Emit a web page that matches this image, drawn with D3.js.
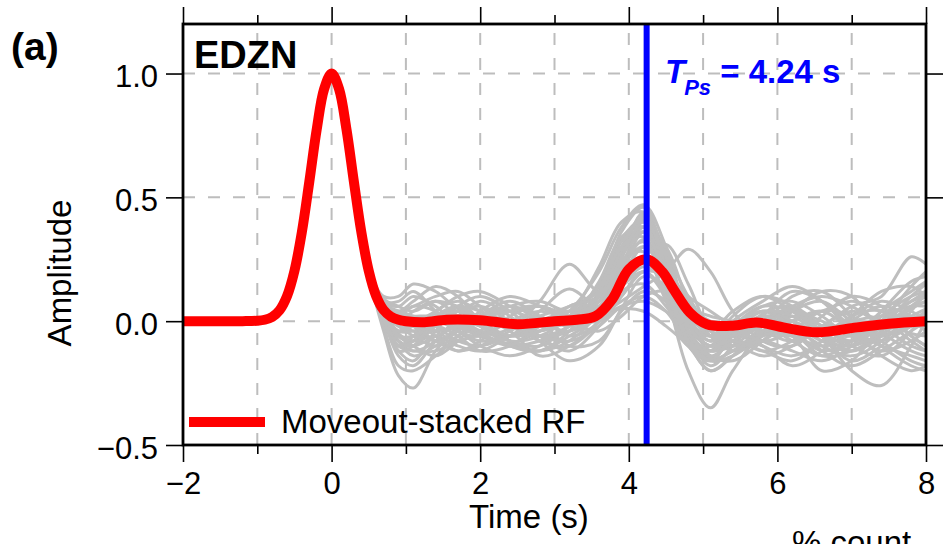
<!DOCTYPE html>
<html>
<head>
<meta charset="utf-8">
<script src="https://cdn.jsdelivr.net/npm/d3@7"></script>
<style>
  html, body { margin: 0; padding: 0; background: #fff; }
  svg { display: block; font-family: "Liberation Sans", Arial, Helvetica, sans-serif; }
</style>
</head>
<body>
<svg id="chart" width="948" height="544"></svg>
<script>
// Moveout-stacked receiver function (time in s, normalised amplitude)
const stackTime = [-2, -1.2, -1.0, -0.9, -0.8, -0.7, -0.6, -0.5, -0.4, -0.3, -0.2, -0.1, 0, 0.1, 0.2, 0.3, 0.4, 0.5,
  0.6, 0.7, 0.8, 0.9, 1.0, 1.25, 1.55, 2.0, 2.5, 3.0, 3.3, 3.55, 3.78, 4.0, 4.24, 4.45, 4.6, 4.82, 5.05, 5.4, 5.72,
  6.08, 6.53, 7.07, 7.5, 8.0];
const stackAmp = [0, 0.0001, 0.0017, 0.0057, 0.017, 0.044, 0.101, 0.203, 0.36, 0.563, 0.775, 0.938, 1.0, 0.938, 0.775, 0.563, 0.36, 0.203,
  0.101, 0.045, 0.018, 0.006, 0.0, -0.004, 0.006, 0.004, -0.012, 0.0, 0.006, 0.02, 0.09, 0.21, 0.25, 0.2, 0.13, 0.035, -0.012, -0.018, -0.005,
  -0.025, -0.045, -0.025, -0.01, 0.0];

// Individual receiver functions after the direct P pulse (they share the pulse before 0.5 s)
const traceTime = [0.5, 0.7, 0.9, 1.1, 1.4, 1.7, 2.0, 2.4, 2.8, 3.2, 3.6, 3.9, 4.2, 4.5, 4.8, 5.1, 5.4, 5.8, 6.2, 6.6, 7.0, 7.4, 7.8, 8.0];
const traces = [
  [0.19,-0.04,-0.22,-0.27,-0.12,-0.03,-0.05,-0.09,-0.04,0.04,0.2,0.38,0.47,0.3,0.02,-0.12,-0.08,0.0,0.05,-0.04,-0.1,0.0,0.14,0.2],
  [0.2,0.06,-0.05,-0.08,-0.06,-0.1,-0.12,-0.06,0.0,0.02,0.15,0.32,0.4,0.12,-0.2,-0.35,-0.2,-0.05,-0.02,-0.08,-0.1,-0.05,0.02,0.05],
  [0.2,0.04,-0.04,-0.02,0.03,0.0,-0.05,-0.03,0.08,0.23,0.12,0.18,0.3,0.2,0.0,-0.1,-0.05,0.02,0.0,-0.08,-0.12,-0.04,0.05,0.08],
  [0.19,0.05,0.0,0.04,0.08,0.02,-0.04,-0.06,-0.02,0.02,0.08,0.18,0.26,0.31,0.15,-0.04,-0.1,-0.05,0.04,0.08,0.0,-0.06,0.0,0.04],
  [0.2,0.08,0.06,0.1,0.06,-0.02,-0.06,-0.1,-0.08,-0.04,0.02,0.08,0.14,0.2,0.29,0.2,0.04,-0.08,-0.1,-0.02,0.04,0.0,-0.05,-0.06],
  [0.21,0.1,0.1,0.15,0.12,0.05,0.02,0.06,0.02,-0.02,0.05,0.2,0.36,0.2,-0.05,-0.15,-0.12,-0.02,0.1,0.12,0.02,-0.1,-0.18,-0.2],
  [0.18,-0.02,-0.18,-0.2,-0.14,-0.06,0.02,0.08,0.02,-0.06,0.0,0.25,0.44,0.25,-0.05,-0.18,-0.1,0.03,0.06,-0.02,-0.08,-0.02,0.1,0.15],
  [0.2,0.02,-0.12,-0.16,-0.04,0.06,0.1,0.04,-0.06,-0.12,-0.02,0.1,0.2,0.1,-0.02,-0.08,-0.05,-0.1,-0.18,-0.12,0.0,0.06,0.02,-0.02],
  [0.2,0.06,0.02,0.0,-0.06,-0.12,-0.08,0.02,0.06,0.02,0.06,0.28,0.43,0.28,0.02,-0.08,0.02,0.1,0.06,-0.06,-0.16,-0.1,0.0,0.02],
  [0.19,0.03,-0.06,-0.1,-0.14,-0.08,0.0,-0.04,-0.14,-0.1,0.0,0.12,0.15,0.06,-0.06,-0.12,-0.1,-0.02,-0.06,-0.2,-0.16,-0.02,0.08,0.1],
  [0.2,0.07,0.04,0.06,0.1,0.12,0.06,-0.02,-0.04,0.02,0.14,0.3,0.34,0.16,-0.02,-0.06,0.0,-0.04,-0.08,-0.02,0.06,0.1,0.26,0.23],
  [0.2,0.04,-0.02,-0.06,-0.1,-0.06,0.02,0.06,0.0,-0.1,-0.08,0.04,0.12,0.08,-0.04,-0.14,-0.16,-0.08,0.04,0.12,0.1,-0.04,-0.12,-0.14],
  [0.19,0.0,-0.1,-0.06,0.04,0.08,0.04,-0.02,-0.06,-0.02,0.1,0.33,0.41,0.2,-0.06,-0.16,-0.14,-0.06,0.0,0.04,-0.04,-0.14,-0.2,-0.18],
  [0.2,0.05,0.0,0.02,-0.02,-0.08,-0.1,-0.06,-0.02,0.0,0.08,0.22,0.3,0.18,0.02,-0.04,0.04,0.1,0.04,-0.06,-0.2,-0.26,-0.1,0.0],
  [0.2,0.03,-0.08,-0.12,-0.08,0.02,0.08,0.02,-0.08,-0.16,-0.1,0.05,0.18,0.14,0.0,-0.06,-0.02,0.04,-0.02,-0.1,-0.14,-0.08,0.04,0.12],
  [0.2,0.06,0.04,0.08,0.14,0.1,0.0,-0.08,-0.12,-0.06,0.02,0.14,0.22,0.16,0.04,-0.02,-0.06,-0.12,-0.08,0.02,0.1,0.06,-0.06,-0.1],
  [0.19,0.02,-0.08,-0.1,-0.02,0.02,-0.02,-0.1,-0.12,-0.04,0.12,0.36,0.46,0.24,-0.04,-0.12,-0.06,0.0,-0.04,-0.12,-0.08,0.04,0.16,0.18],
  [0.2,0.05,-0.02,-0.04,-0.08,-0.04,0.04,0.1,0.06,0.0,0.02,0.06,0.08,0.04,-0.04,-0.1,-0.08,0.02,0.12,0.08,-0.02,-0.06,-0.02,0.02],
  [0.2,0.04,-0.04,-0.04,0.0,-0.04,-0.1,-0.14,-0.1,-0.02,0.02,0.05,0.04,-0.02,-0.1,-0.2,-0.14,-0.04,-0.06,-0.1,-0.04,0.02,0.06,0.06],
  [0.2,0.07,0.03,0.0,0.04,0.1,0.12,0.06,-0.02,0.0,0.16,0.34,0.38,0.22,0.06,0.0,-0.04,-0.1,-0.14,-0.08,0.02,0.12,0.14,0.1],
  [0.19,0.01,-0.14,-0.18,-0.08,0.0,-0.02,-0.06,-0.02,0.06,0.1,0.2,0.26,0.1,-0.1,-0.12,-0.02,0.06,0.04,-0.04,-0.06,0.0,-0.08,-0.12],
  [0.2,0.05,0.0,-0.02,-0.04,-0.02,0.0,-0.02,-0.04,0.0,0.06,0.16,0.24,0.18,0.06,0.02,0.0,-0.04,-0.06,-0.04,0.0,0.02,0.02,0.0],
  [0.2,0.06,0.02,0.02,0.02,0.0,-0.04,-0.06,0.0,0.04,0.04,0.2,0.33,0.14,-0.1,-0.16,-0.06,0.02,-0.04,-0.14,-0.12,-0.06,-0.02,0.0],
  [0.2,0.04,-0.06,-0.08,0.02,0.06,0.0,-0.08,-0.1,-0.02,0.08,0.24,0.28,0.08,-0.1,-0.1,0.0,0.08,0.14,0.08,-0.04,-0.12,-0.08,-0.04],
  [0.2,0.03,-0.04,0.0,0.02,-0.04,-0.08,-0.06,0.04,0.13,0.06,0.14,0.2,0.12,0.02,-0.06,-0.12,-0.08,0.0,0.04,0.08,0.04,0.0,-0.04],
  [0.19,0.02,-0.1,-0.08,0.02,0.04,-0.02,-0.08,-0.06,0.02,0.22,0.4,0.44,0.2,-0.08,-0.2,-0.14,-0.04,0.02,-0.02,-0.1,-0.14,-0.04,0.04],
  [0.2,0.06,0.04,0.02,-0.04,-0.08,-0.04,0.04,0.06,0.0,-0.04,0.02,0.1,0.12,0.06,-0.02,-0.08,-0.14,-0.1,-0.02,-0.04,-0.1,-0.14,-0.16],
  [0.2,0.08,0.08,0.12,0.04,-0.04,-0.06,0.0,0.04,0.02,0.1,0.26,0.36,0.24,0.06,-0.04,-0.06,-0.02,0.0,-0.06,-0.08,0.0,0.08,0.12],
  [0.2,0.03,-0.08,-0.1,-0.06,-0.02,0.02,0.0,-0.06,-0.08,-0.02,0.06,0.1,0.04,-0.08,-0.12,-0.04,0.04,0.0,-0.12,-0.18,-0.12,-0.04,0.0],
  [0.2,0.05,-0.02,-0.02,0.02,0.06,0.04,-0.02,-0.06,-0.04,0.04,0.18,0.3,0.26,0.1,-0.02,-0.02,0.06,0.08,0.02,-0.06,-0.02,0.06,0.08],
  [0.2,0.04,-0.08,-0.14,-0.1,-0.04,0.02,0.04,0.0,-0.04,0.04,0.22,0.38,0.3,0.08,-0.06,-0.1,-0.06,-0.02,-0.06,-0.12,-0.06,0.06,0.1],
  [0.2,0.06,0.02,-0.02,-0.08,-0.12,-0.1,-0.04,0.02,0.06,0.12,0.3,0.42,0.22,-0.04,-0.14,-0.08,0.0,0.04,0.0,-0.06,-0.08,-0.02,0.02],
  [0.21,0.09,0.06,0.04,0.08,0.06,0.02,0.04,0.06,0.02,0.0,0.1,0.2,0.18,0.08,-0.02,-0.06,-0.02,0.06,0.1,0.06,-0.02,-0.1,-0.12],
  [0.19,0.02,-0.1,-0.12,-0.12,-0.08,-0.06,-0.1,-0.12,-0.08,0.04,0.24,0.32,0.14,-0.08,-0.16,-0.12,-0.08,-0.12,-0.16,-0.1,0.02,0.1,0.12],
  [0.2,0.05,0.02,0.06,0.04,-0.02,0.0,0.06,0.08,0.04,0.1,0.28,0.38,0.2,0.0,-0.08,-0.04,0.04,0.02,-0.04,0.02,0.08,0.04,0.0],
  [0.2,0.03,-0.06,-0.06,-0.02,-0.06,-0.12,-0.1,-0.02,0.04,0.14,0.3,0.36,0.18,-0.02,-0.1,-0.08,-0.12,-0.16,-0.08,0.02,0.04,-0.06,-0.1],
  [0.2,0.07,0.04,0.0,0.0,0.04,0.06,0.0,-0.08,-0.1,0.0,0.16,0.26,0.2,0.1,0.04,-0.02,-0.08,-0.04,0.04,0.02,-0.08,-0.16,-0.18],
  [0.19,0.01,-0.12,-0.1,0.0,0.04,0.0,-0.06,-0.04,0.02,0.08,0.26,0.4,0.26,0.04,-0.06,-0.06,-0.02,-0.08,-0.14,-0.08,0.04,0.12,0.16]
];

// Axis ticks and annotations
const xMajorTicks = [-2, 0, 2, 4, 6, 8];
const xMinorTicks = [-1, 1, 3, 5, 7];
const xGrid = [-1, 0, 1, 2, 3, 4, 5, 6, 7];
const yTicks = [-0.5, 0.0, 0.5, 1.0];
const yGrid = [0.0, 0.5, 1.0];
const psTime = 4.24;
const stationName = "EDZN";
const legendLabel = "Moveout-stacked RF";

const svg = d3.select("#chart");
const frame = { left: 183, right: 926, top: 24, bottom: 445 };

const x = d3.scaleLinear().domain([-2, 8]).range([frame.left, frame.right]);
const y = d3.scaleLinear().domain([-0.5, 1.2]).range([frame.bottom, frame.top]);

// dashed grid
const grid = svg.append("g").attr("stroke", "#bdbdbd").attr("stroke-width", 2).attr("stroke-dasharray", "12,13");
grid.selectAll("line.v").data(xGrid).join("line").attr("class", "v")
  .attr("x1", d => x(d)).attr("x2", d => x(d))
  .attr("y1", frame.bottom).attr("y2", frame.top);
grid.selectAll("line.h").data(yGrid).join("line").attr("class", "h")
  .attr("x1", frame.left).attr("x2", frame.right)
  .attr("y1", d => y(d)).attr("y2", d => y(d));

const line = d3.line()
  .x(d => x(d[0])).y(d => y(d[1]))
  .curve(d3.curveCatmullRom.alpha(0.5));

// the direct-P pulse common to every trace
const pulse = stackTime.map((t, i) => [t, stackAmp[i]]).filter(d => d[0] < traceTime[0]);

svg.append("g").attr("fill", "none").attr("stroke", "#bebebe").attr("stroke-width", 3)
  .selectAll("path").data(traces).join("path")
  .attr("d", tr => line(pulse.concat(traceTime.map((t, i) => [t, tr[i]]))));

// stacked RF
svg.append("path")
  .attr("fill", "none").attr("stroke", "#ff0000").attr("stroke-width", 10)
  .attr("d", line(stackTime.map((t, i) => [t, stackAmp[i]])));

// Ps arrival marker
svg.append("line")
  .attr("x1", x(psTime)).attr("x2", x(psTime))
  .attr("y1", frame.top).attr("y2", frame.bottom)
  .attr("stroke", "#0000ff").attr("stroke-width", 6);

// axes
function styleAxis(g) {
  g.select(".domain").remove();
  g.attr("font-family", null).attr("font-size", 31);
  g.selectAll(".tick line").attr("stroke", "#000").attr("stroke-width", 1.6);
  g.selectAll(".tick text").attr("fill", "#000");
}
const fmtX = d3.format("d");
const fmtY = d3.format(".1f");

svg.append("g").attr("transform", `translate(0,${frame.bottom})`)
  .call(d3.axisBottom(x).tickValues(xMajorTicks).tickSize(17).tickFormat(fmtX))
  .call(styleAxis)
  .call(g => g.selectAll(".tick text").attr("y", 49).attr("dy", null));
svg.append("g").attr("transform", `translate(0,${frame.bottom})`)
  .call(d3.axisBottom(x).tickValues(xMinorTicks).tickSize(9).tickFormat(""))
  .call(styleAxis);
svg.append("g").attr("transform", `translate(0,${frame.top})`)
  .call(d3.axisTop(x).tickValues(xMajorTicks).tickSize(17).tickFormat(""))
  .call(styleAxis);
svg.append("g").attr("transform", `translate(0,${frame.top})`)
  .call(d3.axisTop(x).tickValues(xMinorTicks).tickSize(9).tickFormat(""))
  .call(styleAxis);
svg.append("g").attr("transform", `translate(${frame.left},0)`)
  .call(d3.axisLeft(y).tickValues(yTicks).tickSize(17).tickFormat(fmtY))
  .call(styleAxis)
  .call(g => g.selectAll(".tick text").attr("x", -25).attr("dy", null).attr("y", 13));
svg.append("g").attr("transform", `translate(${frame.right},0)`)
  .call(d3.axisRight(y).tickValues(yTicks).tickSize(17).tickFormat(""))
  .call(styleAxis);

// frame
svg.append("rect")
  .attr("x", frame.left).attr("y", frame.top)
  .attr("width", frame.right - frame.left).attr("height", frame.bottom - frame.top)
  .attr("fill", "none").attr("stroke", "#000").attr("stroke-width", 2.8);

// axis titles
svg.append("text").attr("x", 529).attr("y", 528).attr("text-anchor", "middle")
  .attr("font-size", 33).text("Time (s)");
svg.append("text").attr("transform", "translate(71,273) rotate(-90)").attr("text-anchor", "middle")
  .attr("font-size", 33).text("Amplitude");

// panel label and station
svg.append("text").attr("x", 11).attr("y", 60).attr("font-size", 39).attr("font-weight", "bold").text("(a)");
svg.append("text").attr("x", 194).attr("y", 68).attr("font-size", 38).attr("font-weight", "bold").text(stationName);

// T_Ps annotation
const ann = svg.append("text").attr("x", 665).attr("y", 83).attr("fill", "#0000ff")
  .attr("font-weight", "bold").attr("font-size", 33);
ann.append("tspan").attr("font-style", "italic").text("T");
ann.append("tspan").attr("font-style", "italic").attr("font-size", 22).attr("dy", 12).attr("dx", -1).text("Ps");
ann.append("tspan").attr("dy", -12).text(" = " + psTime.toFixed(2) + " s");

// legend
svg.append("line").attr("x1", 189).attr("x2", 265).attr("y1", 422).attr("y2", 422)
  .attr("stroke", "#ff0000").attr("stroke-width", 10);
svg.append("text").attr("x", 281).attr("y", 433).attr("font-size", 33).text(legendLabel);

// neighbouring panel caption, cut by the page edge
svg.append("text").attr("x", 792).attr("y", 554).attr("font-size", 33).text("% count");
</script>
</body>
</html>
